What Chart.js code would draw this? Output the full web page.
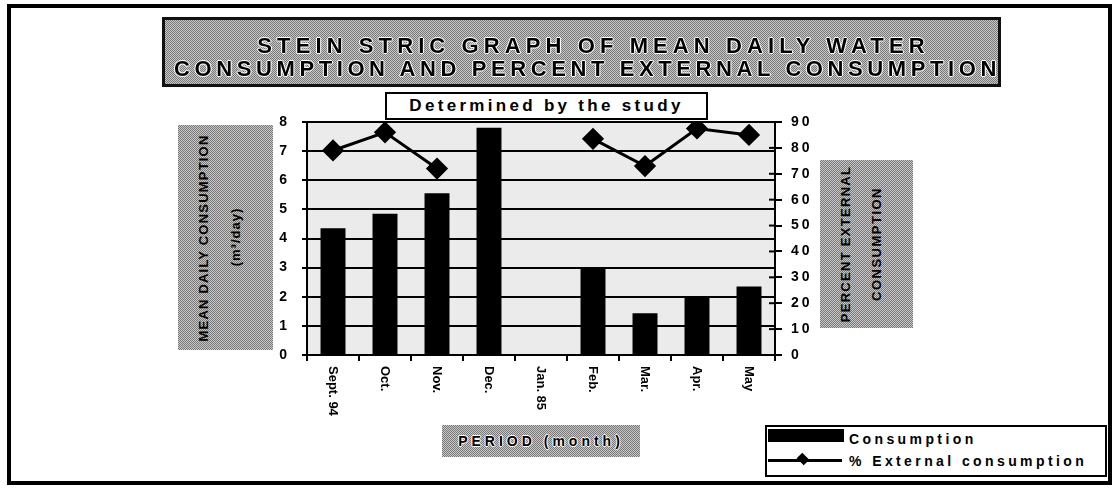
<!DOCTYPE html>
<html>
<head>
<meta charset="utf-8">
<script src="https://cdn.jsdelivr.net/npm/chart.js@4"></script>
<style>
  body { margin: 0; background: #fff; }
  #wrap { position: relative; width: 1117px; height: 489px; overflow: hidden;
          font-family: 'Liberation Sans', Arial, sans-serif; font-weight: bold; color: #000; }
  #chart { position: absolute; left: 0; top: 0; }
  .frame { position: absolute; left: 7px; top: 4px; width: 1097px; height: 473px; border: 4px solid #000; }
  .stipple { position: absolute; background-color: #a0a0a0;
             background-image: repeating-conic-gradient(#787878 0 25%, #c8c8c8 0 50%);
             background-size: 2px 2px; }
  .titlebox { left: 162px; top: 17px; width: 833px; height: 64px; border: 3px solid #111; }
  .tline { position: absolute; left: 162px; width: 839px; text-align: center; white-space: nowrap;
           font-size: 22px; line-height: 22px;
           text-shadow: 1px 0 0 #fff, -1px 0 0 #fff, 0 1px 0 #fff, 0 -1px 0 #fff; }
  .sub { position: absolute; left: 385px; top: 92px; width: 319px; height: 24px; border: 2px solid #000;
         background: #fff; text-align: center; font-size: 17px; line-height: 24px; letter-spacing: 3.3px; white-space: nowrap; }
  .vt { position: absolute; white-space: nowrap; transform: translate(-50%, -50%) rotate(-90deg);
        font-size: 13px; line-height: 14px; font-weight: 900; }
  .xtitle { left: 442px; top: 425px; width: 198px; height: 32px; text-align: center; line-height: 32px;
            font-size: 14px; letter-spacing: 4px; white-space: nowrap;
            text-shadow: 1px 0 0 #fff, -1px 0 0 #fff, 0 1px 0 #fff, 0 -1px 0 #fff; }
  .legend { position: absolute; left: 765px; top: 425px; width: 338px; height: 48px; border: 2px solid #000; background: #fff; }
  .lg-bar { position: absolute; left: 1px; top: 2px; width: 76px; height: 13px; background: #000; }
  .lg-line { position: absolute; left: 1px; top: 32px; width: 74px; height: 3px; background: #000; }
  .lg-dia { position: absolute; left: 31px; top: 27px; width: 10px; height: 10px; background: #000;
            transform: rotate(45deg) scaleY(0.8); }
  .lg-txt { position: absolute; left: 82px; font-size: 14px; letter-spacing: 3.4px; white-space: nowrap; line-height: 16px; }
</style>
</head>
<body>
<div id="wrap">
  <div class="frame"></div>
  <canvas id="chart" width="1117" height="489"></canvas>

  <div class="stipple titlebox"></div>
  <div class="tline" style="top:35px; letter-spacing:5.1px; padding-left:12px;">STEIN STRIC GRAPH OF MEAN DAILY WATER</div>
  <div class="tline" style="top:58px; letter-spacing:4.6px; padding-left:6px;">CONSUMPTION AND PERCENT EXTERNAL CONSUMPTION</div>
  <div class="sub">Determined by the study</div>

  <div class="stipple" style="left:178px; top:125px; width:95px; height:225px;"></div>
  <div class="vt" style="left:204px; top:238px; letter-spacing:1.2px;">MEAN DAILY CONSUMPTION</div>
  <div class="vt" style="left:236px; top:237px; letter-spacing:1px;">(m³/day)</div>

  <div class="stipple" style="left:820px; top:160px; width:93px; height:168px;"></div>
  <div class="vt" style="left:846px; top:244px; letter-spacing:1.3px;">PERCENT EXTERNAL</div>
  <div class="vt" style="left:877px; top:244px; letter-spacing:1.5px;">CONSUMPTION</div>

  <div class="stipple xtitle">PERIOD (month)</div>

  <div class="legend">
    <div class="lg-bar"></div>
    <div class="lg-txt" style="top:4px;">Consumption</div>
    <div class="lg-line"></div>
    <div class="lg-dia"></div>
    <div class="lg-txt" style="top:26px;">% External consumption</div>
  </div>
</div>

<script>
// Monthly study periods
const categories = ['Sept. 94', 'Oct.', 'Nov.', 'Dec.', 'Jan. 85', 'Feb.', 'Mar.', 'Apr.', 'May'];
// Mean daily consumption (m³/day); no reading for January
const consumption = [4.35, 4.85, 5.55, 7.8, null, 3.0, 1.43, 2.0, 2.35];
// Share of consumption that is external (%); no reading for December and January
const externalPct = [79, 86, 72, null, null, 83.5, 73, 87.5, 85];
// Axis ranges
const leftTicks = [0, 1, 2, 3, 4, 5, 6, 7, 8];
const rightTicks = [0, 10, 20, 30, 40, 50, 60, 70, 80, 90];

const tickFont = { family: "'Liberation Sans', Arial, sans-serif", size: 14, weight: 'bold' };

// Shaded plot background, spaced right-axis digits, vertical month labels
const decor = {
  id: 'decor',
  beforeDraw(chart) {
    const { ctx, chartArea: a } = chart;
    ctx.save();
    ctx.fillStyle = '#ebebeb';
    ctx.fillRect(a.left, a.top, a.right - a.left, a.bottom - a.top);
    ctx.restore();
    ctx.letterSpacing = '3px';
  },
  afterDraw(chart) {
    const { ctx, chartArea: a } = chart;
    ctx.letterSpacing = '0px';
    const xs = chart.scales.x;
    const y1 = chart.scales.y1;
    ctx.save();
    // inner half of the right-axis tick marks
    ctx.strokeStyle = '#000';
    ctx.lineWidth = 2;
    rightTicks.forEach(v => {
      const py = y1.getPixelForValue(v);
      ctx.beginPath();
      ctx.moveTo(a.right - 6, py);
      ctx.lineTo(a.right, py);
      ctx.stroke();
    });
    // month labels, rotated to read top to bottom
    ctx.fillStyle = '#000';
    ctx.font = "bold 13px 'Liberation Sans', Arial, sans-serif";
    ctx.textAlign = 'left';
    ctx.textBaseline = 'middle';
    categories.forEach((c, i) => {
      const px = xs.getPixelForValue(i);
      ctx.save();
      ctx.translate(px, a.bottom + 11);
      ctx.rotate(Math.PI / 2);
      ctx.fillText(c, 0, 0);
      ctx.restore();
    });
    ctx.restore();
  }
};

new Chart(document.getElementById('chart'), {
  type: 'bar',
  data: {
    labels: categories,
    datasets: [
      {
        type: 'line',
        label: '% External consumption',
        data: externalPct,
        yAxisID: 'y1',
        borderColor: '#000',
        borderWidth: 3,
        backgroundColor: '#000',
        pointStyle: 'rectRot',
        pointRadius: 9,
        pointBackgroundColor: '#000',
        pointBorderColor: '#000',
        tension: 0,
        spanGaps: false,
        order: 0
      },
      {
        label: 'Consumption',
        data: consumption,
        yAxisID: 'y',
        backgroundColor: '#000',
        barPercentage: 0.48,
        categoryPercentage: 1.0,
        order: 1
      }
    ]
  },
  options: {
    responsive: false,
    animation: false,
    events: [],
    layout: { padding: { left: 277, right: 297, top: 122, bottom: 74 } },
    plugins: { legend: { display: false }, title: { display: false }, tooltip: { enabled: false } },
    scales: {
      x: {
        offset: true,
        grid: { display: true, drawOnChartArea: false, offset: true, tickLength: 6, color: '#000', lineWidth: 2 },
        border: { display: true, color: '#000', width: 2 },
        ticks: { display: false },
        afterFit(s) { s.height = 60; }
      },
      y: {
        position: 'left',
        min: leftTicks[0],
        max: leftTicks[leftTicks.length - 1],
        afterBuildTicks(s) { s.ticks = leftTicks.map(v => ({ value: v })); },
        ticks: { color: '#000', font: tickFont, padding: 12 },
        grid: { color: '#000', lineWidth: 2, tickLength: 5 },
        border: { color: '#000', width: 2 },
        afterFit(s) { s.width = 30; }
      },
      y1: {
        position: 'right',
        min: rightTicks[0],
        max: rightTicks[rightTicks.length - 1],
        afterBuildTicks(s) { s.ticks = rightTicks.map(v => ({ value: v })); },
        ticks: { color: '#000', font: tickFont, padding: 9 },
        grid: { drawOnChartArea: false, color: '#000', lineWidth: 2, tickLength: 7 },
        border: { color: '#000', width: 2 },
        afterFit(s) { s.width = 45; }
      }
    }
  },
  plugins: [decor]
});
</script>
</body>
</html>
